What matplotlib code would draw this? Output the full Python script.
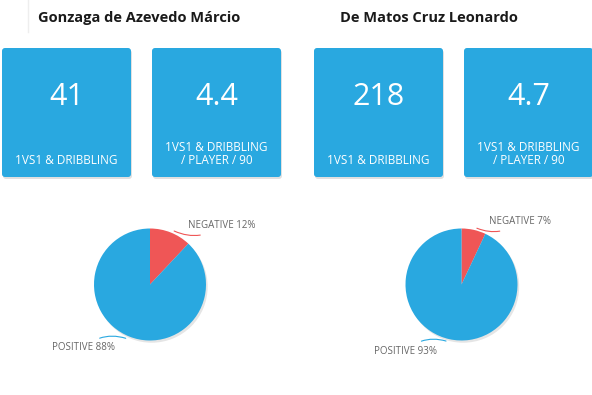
import matplotlib
matplotlib.use("Agg")
import matplotlib.pyplot as plt
from matplotlib.patches import FancyBboxPatch
import numpy as np

plt.rcParams['font.family'] = ['Open Sans', 'DejaVu Sans']

# ---- data ----
players = ["Gonzaga de Azevedo Márcio", "De Matos Cruz Leonardo"]
total_values = ["41", "218"]
per90_values = ["4.4", "4.7"]
total_label = "1VS1 & DRIBBLING"
per90_label = "1VS1 & DRIBBLING\n/ PLAYER / 90"
pie_labels = ["NEGATIVE", "POSITIVE"]
pie_values = [[12, 88], [7, 93]]

BLUE = "#29a8e0"
RED = "#ef5656"
GREY = "#666666"

W, H = 592, 395
fig = plt.figure(figsize=(W / 100, H / 100), dpi=100)
bg = fig.add_axes([0, 0, 1, 1])
bg.set_xlim(0, W)
bg.set_ylim(H, 0)
bg.axis("off")

# faint divider
bg.plot([28, 28], [0, 32], color="#eeeeee", lw=1)

title_x = [38, 340]
box_x = [(2, 152), (314, 464)]
box_y, box_w, box_h = 48, 129, 129

for i, name in enumerate(players):
    bg.text(title_x[i], 18, name, fontsize=10.5, fontweight="bold",
            color="#1a1a1a", va="center", ha="left")
    vals = [total_values[i], per90_values[i]]
    labs = [total_label, per90_label]
    for j, bx in enumerate(box_x[i]):
        # shadow
        sh = FancyBboxPatch((bx + 1, box_y + 2), box_w, box_h,
                            boxstyle="round,pad=0,rounding_size=3",
                            facecolor="#000000", alpha=0.12, edgecolor="none")
        bg.add_patch(sh)
        p = FancyBboxPatch((bx, box_y), box_w, box_h,
                           boxstyle="round,pad=0,rounding_size=3",
                           facecolor=BLUE, edgecolor="none")
        bg.add_patch(p)
        cx = bx + box_w / 2
        bg.text(cx, 97, vals[j], fontsize=22, color="white", ha="center",
                va="center", fontweight="normal")
        if "\n" in labs[j]:
            bg.text(cx, 154, labs[j], fontsize=8.5, color="white", ha="center",
                    va="center", linespacing=1.0)
        else:
            bg.text(cx, 160, labs[j], fontsize=8.5, color="white", ha="center",
                    va="center")

# ---- pies ----
centers = [(150, 284.5), (461.5, 284.5)]
r = 56
neg_text = [(188, 226), (489, 222)]
pos_text = [(115, 348), (437, 351)]

for i, vals in enumerate(pie_values):
    cx, cy = centers[i]
    ax = fig.add_axes([(cx - r) / W, 1 - (cy + r) / H, 2 * r / W, 2 * r / H])
    ax.set_xlim(-1, 1)
    ax.set_ylim(-1, 1)
    ax.axis("off")
    # shadow
    ax.pie([1], radius=1.0, colors=["#000000"], startangle=90,
           center=(0.03, -0.04), wedgeprops=dict(alpha=0.10, linewidth=0))
    wedges, _ = ax.pie(vals, colors=[RED, BLUE], startangle=90, counterclock=False,
                       radius=1.0, wedgeprops=dict(linewidth=0))
    ax.set_xlim(-1, 1)
    ax.set_ylim(-1, 1)
    total = sum(vals)
    # negative label
    mid = 90 - vals[0] / total * 360 / 2
    px, py = np.cos(np.radians(mid)) * 1.05, np.sin(np.radians(mid)) * 1.05
    tx = (neg_text[i][0] - cx) / r
    ty = -(neg_text[i][1] - cy) / r
    ax.annotate(f"{pie_labels[0]} {vals[0]}%", xy=(px, py), xytext=(tx, ty),
                fontsize=7, color=GREY, ha="left", va="center",
                annotation_clip=False,
                arrowprops=dict(arrowstyle="-", color=RED, lw=0.8,
                                connectionstyle="arc3,rad=-0.3",
                                shrinkA=3, shrinkB=2))
    # positive label
    mid = 90 - (vals[0] + vals[1] / 2) / total * 360
    px, py = np.cos(np.radians(mid)) * 1.05, np.sin(np.radians(mid)) * 1.05
    tx = (pos_text[i][0] - cx) / r
    ty = -(pos_text[i][1] - cy) / r
    ax.annotate(f"{pie_labels[1]} {vals[1]}%", xy=(px, py), xytext=(tx, ty),
                fontsize=7, color=GREY, ha="right", va="center",
                annotation_clip=False,
                arrowprops=dict(arrowstyle="-", color=BLUE, lw=0.8,
                                connectionstyle="arc3,rad=-0.3",
                                shrinkA=3, shrinkB=2))

fig.savefig("out.png", dpi=100, facecolor="white")
